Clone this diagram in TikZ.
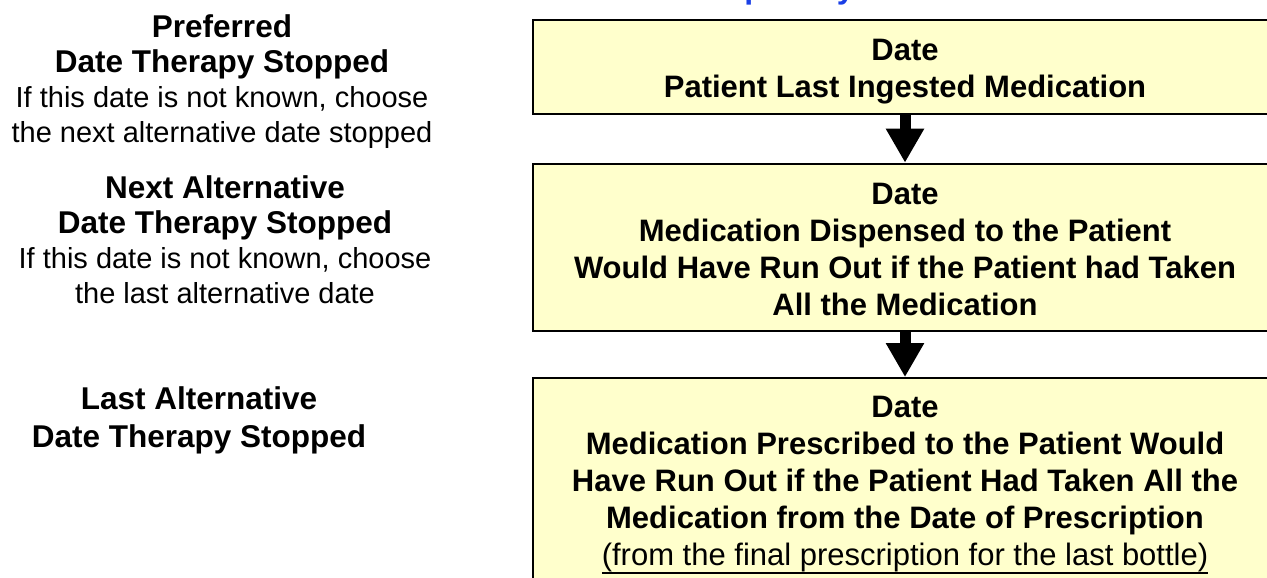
\documentclass[tikz,border=0pt]{standalone}
\usepackage{fontspec}
\setmainfont{Liberation Sans}
\usetikzlibrary{arrows.meta}
\definecolor{boxfill}{HTML}{FFFFCC}
\definecolor{titleblue}{HTML}{1A3FE6}
\newsavebox\ulsave
\newcommand\undertext[1]{\sbox\ulsave{#1}\rlap{\vrule width\wd\ulsave height -6.5pt depth 8.5pt}\usebox\ulsave}
\newcommand\plainline[1]{{\mdseries\fontsize{29}{35}\selectfont #1}}

\begin{document}
\begin{tikzpicture}[x=1pt,y=-1pt,
  datebox/.style={draw,line width=2pt,fill=boxfill,minimum width=744pt,align=center,
    font=\fontsize{31}{37}\selectfont\bfseries},
  stoparrow/.style={line width=11pt,-{Triangle[width=36pt,length=34pt]}},
  levelnote/.style={align=center,anchor=north,inner sep=0pt,
    font=\fontsize{31.5}{35}\selectfont\bfseries}]
  \useasboundingbox (0,0) rectangle (1267,578);
  \clip (0,0) rectangle (1267,578);

  % title, cut off at the top
  \node[anchor=base west,inner sep=0pt,text=titleblue,font=\fontsize{32}{38}\selectfont\bfseries] (order) at (609,-1.5) {Order of priority};

  % the three dates
  \node[datebox,minimum height=94pt] (ingested) at (905,67.25) {\rule{0pt}{31pt}Date\\Patient Last Ingested Medication};
  \node[datebox,minimum height=167pt] (dispensed) at (905,247.2) {\rule{0pt}{25.6pt}Date\\Medication Dispensed to the Patient\\Would Have Run Out if the Patient had Taken\\All the Medication};
  \node[datebox,minimum height=213pt] (prescribed) at (905,484.6) {Date\\Medication Prescribed to the Patient Would\\Have Run Out if the Patient Had Taken All the\\Medication from the Date of Prescription\\{\mdseries\undertext{(from the final prescription for the last bottle)}}};

  \foreach \a/\b in {ingested/dispensed,dispensed/prescribed}
    \draw[stoparrow] (\a) -- (\b);

  % notes on the left
  \node[levelnote] (preferred) at (222,14) {Preferred\\Date Therapy Stopped\\\plainline{If this date is not known, choose}\\\plainline{the next alternative date stopped}};
  \node[levelnote] (nextalt) at (225,175) {Next Alternative\\Date Therapy Stopped\\\plainline{If this date is not known, choose}\\\plainline{the last alternative date}};
  \node[levelnote,font=\fontsize{31.5}{38}\selectfont\bfseries] (lastalt) at (199,386) {Last Alternative\\Date Therapy Stopped};
\end{tikzpicture}
\end{document}
